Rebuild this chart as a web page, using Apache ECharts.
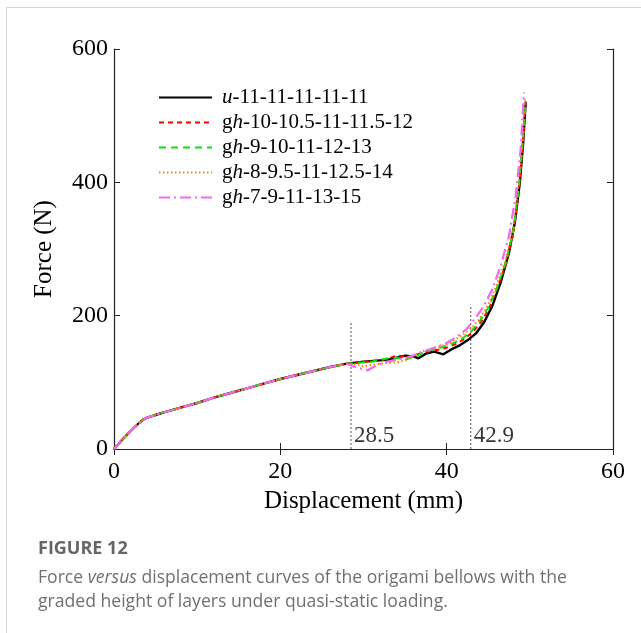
<!DOCTYPE html>
<html><head><meta charset="utf-8">
<script src="https://cdn.jsdelivr.net/npm/echarts@6/dist/echarts.min.js"></script>
<style>html,body{margin:0;padding:0;background:#fff}#c{width:641px;height:633px}</style>
</head><body><div id="c"></div>
<script>
const seriesNames = ['u-11-11-11-11-11','gh-10-10.5-11-11.5-12','gh-9-10-11-12-13','gh-8-9.5-11-12.5-14','gh-7-9-11-13-15'];
const legendLabels = ['{i|u}-11-11-11-11-11','g{i|h}-10-10.5-11-11.5-12','g{i|h}-9-10-11-12-13','g{i|h}-8-9.5-11-12.5-14','g{i|h}-7-9-11-13-15'];
const common = [[0,0],[1,14],[2,27],[3,39],[3.5,44],[4,47],[5,51],[6,55],[8,62],[10,69],[12,77],[14,84],[16,91],[18,98],[20,105],[22,111],[24,117],[26,123],[28,128]];
const uData = [[30,131],[32,133],[33,134],[34,137],[35,140],[36,139],[36.6,136],[37.5,143],[38.5,146],[39.6,142],[40.5,149],[41.5,155],[42.5,163],[43.5,173],[44.5,190],[45.5,215],[46.5,250],[47.5,295],[48.2,340],[48.8,400],[49.2,460],[49.5,520]];
const g10Data = [[29,129],[30,131],[32,133],[33,136],[34,140],[35,139],[36,140],[37,144],[38,147],[39,149],[40,152],[41,157],[42,164],[43,174],[44,188],[45,208],[46,238],[47,272],[48,322],[48.7,392],[49.2,465],[49.5,520]];
const g9Data = [[29,129],[30,130],[31,131],[32,134],[33,136],[34,137],[35,134],[36,138],[37,143],[38,148],[39,151],[40,155],[41,160],[42,167],[43,177],[44,192],[45,212],[46,240],[47,275],[48,325],[48.7,395],[49.2,470],[49.5,522]];
const g8Data = [[29,127],[30,124],[31,126],[32,128],[33,129],[34,130],[35,133],[36,140],[37,146],[38,150],[39,153],[40,157],[41,164],[42,172],[43,182],[44,196],[45,217],[46,245],[47,280],[48,330],[48.7,400],[49.2,470],[49.4,525]];
const g7Data = [[29,123],[30.5,118],[31.5,125],[32.5,130],[34,134],[35.5,138],[37,145],[38.5,152],[40,159],[41.2,168],[42.4,180],[43.5,197],[44.5,215],[45.5,240],[46.5,275],[47.5,320],[48.3,380],[48.9,450],[49.3,535]];
const markerX = [28.5, 42.9];
const markerTop = [189, 213];
const markerLabelY = 20;

const serif = '"Liberation Serif","Times New Roman",serif';
const colors = ['#000000','#ff0000','#00e600','#ff8000','#f666f0'];
const dashes = ['solid',[5,4],[7,5],[1.5,2.5],[11,4,2,4]];
const widths = [2.4,2,2,2,2.2];
const datas = [uData,g10Data,g9Data,g8Data,g7Data];

const chart = echarts.init(document.getElementById('c'), null, {renderer:'canvas'});
const series = seriesNames.map((n,i)=>({
  name:n, type:'line', showSymbol:false, symbol:'none', smooth:false,
  data: common.concat(datas[i]),
  lineStyle:{color:colors[i], width:widths[i], type:dashes[i]},
  itemStyle:{color:colors[i]},
  z: 3
}));
markerX.forEach((x,k)=>{
  series.push({type:'line', showSymbol:false, symbol:'none', silent:true,
    data:[[x,0],[x,markerTop[k]]],
    lineStyle:{color:'#555', width:1, type:[2,2]}, z:2});
});
series.push({type:'scatter', symbolSize:0, silent:true,
  data: markerX.map(x=>[x,markerLabelY]),
  label:{show:true, position:'right', distance:3, formatter:p=>String(p.value[0]),
    fontFamily:serif, fontSize:23, color:'#000'}});

const legendMap = {};
seriesNames.forEach((n,i)=>legendMap[n]=legendLabels[i]);

const axisCol = '#222';
chart.setOption({
  animation:false,
  grid:{left:114, right:28, top:49, bottom:184},
  legend:{
    data: seriesNames, orient:'vertical', left:153, top:82, itemWidth:53, itemHeight:2, itemGap:4,
    itemStyle:{opacity:0},
    formatter: n=>legendMap[n],
    textStyle:{fontFamily:serif, fontSize:21, color:'#000', padding:[0,0,0,5],
      rich:{i:{fontFamily:serif, fontSize:21, fontStyle:'italic', color:'#000'}}}
  },
  xAxis:[{
    type:'value', min:0, max:60, interval:20,
    name:'Displacement (mm)', nameLocation:'middle', nameGap:40,
    nameTextStyle:{fontFamily:serif, fontSize:25, color:'#000'},
    axisLine:{lineStyle:{color:axisCol, width:1.2}},
    axisTick:{inside:true, length:6, lineStyle:{color:axisCol}},
    axisLabel:{fontFamily:serif, fontSize:24, color:'#000', margin:11},
    splitLine:{show:false}
  },{
    type:'value', min:0, max:60, interval:20, position:'top',
    axisLine:{show:true, lineStyle:{color:axisCol, width:1.2}},
    axisTick:{inside:true, length:6, lineStyle:{color:axisCol}},
    axisLabel:{show:false}, splitLine:{show:false}
  }],
  yAxis:[{
    type:'value', min:0, max:600, interval:200, position:'left',
    name:'Force (N)', nameLocation:'middle', nameGap:57, nameRotate:90,
    nameTextStyle:{fontFamily:serif, fontSize:25, color:'#000'},
    axisLine:{show:true, onZero:false, lineStyle:{color:axisCol, width:1.2}},
    axisTick:{show:true, inside:true, length:6, lineStyle:{color:axisCol}},
    axisLabel:{fontFamily:serif, fontSize:24, color:'#000', margin:6},
    splitLine:{show:false}
  },{
    type:'value', min:0, max:600, interval:200, position:'right',
    axisLine:{show:true, onZero:false, lineStyle:{color:axisCol, width:1.2}},
    axisTick:{show:true, inside:true, length:6, lineStyle:{color:axisCol}},
    axisLabel:{show:false}, splitLine:{show:false}
  }],
  series: series,
  graphic:[
    {type:'rect', shape:{x:6.5,y:7.5,width:700,height:700}, style:{fill:'none', stroke:'#d6d6d6', lineWidth:1}, silent:true, z:-10},
    {type:'text', left:38, top:540, style:{text:'FIGURE 12', font:'bold 18px "Open Sans", sans-serif', fill:'#666'}},
    {type:'text', left:38, top:566, style:{
      text:'Force {i|versus} displacement curves of the origami bellows with the\ngraded height of layers under quasi-static loading.',
      font:'17.6px "Open Sans", sans-serif', fill:'#707070', lineHeight:24,
      rich:{i:{font:'italic 17.6px "Open Sans", sans-serif', fill:'#707070', lineHeight:24}}}}
  ]
});
</script></body></html>
